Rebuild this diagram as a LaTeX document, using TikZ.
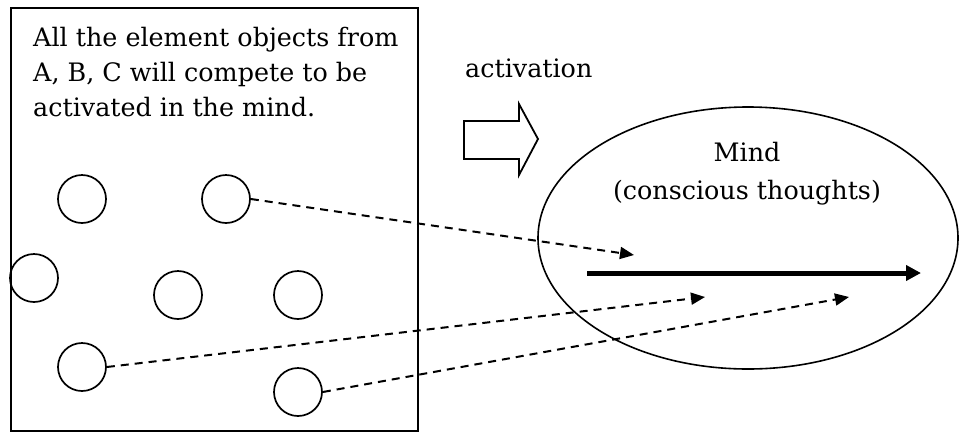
\documentclass[tikz,border=0pt]{standalone}
\usepackage{fontspec}
\setmainfont{DejaVu Serif}
\usetikzlibrary{positioning,shapes.geometric,arrows.meta}

\tikzset{
  obj/.style={circle, draw, line width=1.7pt, minimum size=48pt, inner sep=0pt},
  lbl/.style={font=\fontsize{25.4}{35}\selectfont, inner sep=0pt},
  flow/.style={dash pattern=on 8pt off 6pt, line width=2pt, -{Triangle[length=14pt,width=12pt]}},
  thought/.style={line width=5pt, -{Triangle[length=15pt,width=15pt]}},
}

\begin{document}
\begin{tikzpicture}[x=1pt, y=-1pt]
\useasboundingbox (0,0) rectangle (959,432);

% the pool of element objects
\node[draw, line width=1.8pt, minimum width=407pt, minimum height=423pt, inner sep=0pt, anchor=north west] (pool) at (10,7) {};
\node[lbl, anchor=base west, align=left] (note) at (33,116) {All the element objects from\\A, B, C will compete to be\\activated in the mind.};

\foreach \n/\x/\y in {a/82/199, b/226/199, c/34/278, d/178/295, e/298/295, f/82/367, g/298/392}
	\node[obj] (\n) at (\x,\y) {};

% activation
\node[lbl, anchor=base west] (act) at (465,77) {activation};
\draw[line width=1.8pt, line join=miter] (464,121) -- (519,121) -- (519,104) -- (538,139) -- (519,175) -- (519,159) -- (464,159) -- cycle;

% the mind
\node[ellipse, draw, line width=1.6pt, minimum width=420pt, minimum height=262pt, inner sep=0pt] (mind) at (748,238) {};
\node[lbl, font=\fontsize{25.4}{38}\selectfont, anchor=base, align=center] (mindtxt) at (747,199) {Mind\\(conscious thoughts)};

\coordinate (t0) at (587,273);
\coordinate (t1) at (921,273);
\draw[thought] (t0) -- (t1);

\coordinate (hb) at (634,255);
\coordinate (hf) at (705,297);
\coordinate (hg) at (849,297);
\draw[flow] (b.east) -- (hb);
\draw[flow] (f.east) -- (hf);
\draw[flow] (g.east) -- (hg);

\end{tikzpicture}
\end{document}
